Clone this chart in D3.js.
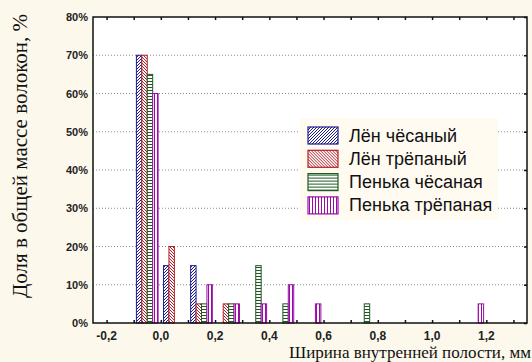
<!DOCTYPE html>
<html>
<head>
<meta charset="utf-8">
<script src="https://cdn.jsdelivr.net/npm/d3@7"></script>
<style>
  body { margin: 0; background: #fcf8ec; }
  svg { display: block; }
</style>
</head>
<body>
<div id="chart"></div>
<script>
// bin centres (mm), bins are 0.1 wide
var bins = [-0.05, 0.05, 0.15, 0.25, 0.35, 0.45, 0.55, 0.65, 0.75, 0.85, 0.95, 1.05, 1.15, 1.25];
var lenChes = [70, 15, 15, 0, 0, 0, 0, 0, 0, 0, 0, 0, 0, 0];
var lenTrep = [70, 20, 5, 5, 0, 0, 0, 0, 0, 0, 0, 0, 0, 0];
var penChes = [65, 0, 5, 5, 15, 5, 0, 0, 5, 0, 0, 0, 0, 0];
var penTrep = [60, 0, 10, 5, 5, 10, 5, 0, 0, 0, 0, 0, 5, 0];
var seriesNames = ["Лён чёсаный", "Лён трёпаный", "Пенька чёсаная", "Пенька трёпаная"];
var xTicks = [-0.2, -0.1, 0, 0.1, 0.2, 0.3, 0.4, 0.5, 0.6, 0.7, 0.8, 0.9, 1.0, 1.1, 1.2, 1.3];
var xLabels = [-0.2, 0, 0.2, 0.4, 0.6, 0.8, 1.0, 1.2];
var yTicks = [0, 10, 20, 30, 40, 50, 60, 70, 80];

var W = 532, H = 362;
var margin = {top: 17, right: 5, bottom: 39, left: 93};
var width = W - margin.left - margin.right,
    height = H - margin.top - margin.bottom;

var series = [
  {name: seriesNames[0], values: lenChes, color: "#1c1c8e", pat: "p0"},
  {name: seriesNames[1], values: lenTrep, color: "#b3202a", pat: "p1"},
  {name: seriesNames[2], values: penChes, color: "#1e5a22", pat: "p2"},
  {name: seriesNames[3], values: penTrep, color: "#9a0aa8", pat: "p3"}
];

var svg = d3.select("#chart").append("svg")
  .attr("width", W).attr("height", H);

// hatch patterns
var defs = svg.append("defs");
function hatch(id, color, path) {
  var p = defs.append("pattern")
    .attr("id", id).attr("patternUnits", "userSpaceOnUse")
    .attr("width", 3).attr("height", 3);
  p.append("rect").attr("width", 3).attr("height", 3).attr("fill", "#fff");
  p.append("path").attr("d", path).attr("stroke", color).attr("stroke-width", 1).attr("fill", "none");
}
hatch("p0", series[0].color, "M-1,1 l2,-2 M0,3 l3,-3 M2,4 l2,-2");
hatch("p1", series[1].color, "M-1,2 l2,2 M0,0 l3,3 M2,-1 l2,2");
hatch("p2", series[2].color, "M0,1.5 h3");
hatch("p3", series[3].color, "M1.5,0 v3");

var g = svg.append("g")
  .attr("transform", "translate(" + margin.left + "," + margin.top + ")");

var x = d3.scaleLinear().domain([-0.25, 1.35]).range([0, width]);
var y = d3.scaleLinear().domain([0, 80]).range([height, 0]);

g.append("rect").attr("width", width).attr("height", height).attr("fill", "#fff");

// grid
g.selectAll(".grid").data(yTicks.slice(1, -1)).enter().append("line")
  .attr("x1", 0).attr("x2", width)
  .attr("y1", function (d) { return y(d); })
  .attr("y2", function (d) { return y(d); })
  .attr("stroke", "#8a8a8a").attr("stroke-width", 1)
  .attr("stroke-dasharray", "1,2");

// bars
var binW = x(0.1) - x(0);
var barW = binW * 0.2;
series.forEach(function (s, si) {
  g.selectAll(".bar" + si)
    .data(bins.map(function (b, i) { return {b: b, v: s.values[i]}; })
      .filter(function (d) { return d.v > 0; }))
    .enter().append("rect")
    .attr("x", function (d) { return x(d.b) - 2 * barW + si * barW; })
    .attr("y", function (d) { return y(d.v); })
    .attr("width", barW)
    .attr("height", function (d) { return height - y(d.v); })
    .attr("fill", "url(#" + s.pat + ")")
    .attr("stroke", s.color)
    .attr("stroke-width", 1);
});

// axes
var fmt = function (d) { return d.toFixed(1).replace(".", ","); };

var xb = g.append("g").attr("transform", "translate(0," + height + ")")
  .call(d3.axisBottom(x).tickValues(xTicks).tickSize(-3).tickFormat(""));
var xt = g.append("g")
  .call(d3.axisTop(x).tickValues(xTicks).tickSize(-3).tickFormat(""));
var yl = g.append("g")
  .call(d3.axisLeft(y).tickValues(yTicks).tickSize(0).tickPadding(5)
    .tickFormat(function (d) { return d + "%"; }));
var yr = g.append("g").attr("transform", "translate(" + width + ",0)")
  .call(d3.axisRight(y).tickValues(yTicks).tickSize(-3).tickFormat(""));

[xb, xt, yl, yr].forEach(function (a) {
  a.select(".domain").remove();
  a.selectAll(".tick line").attr("stroke", "#111").attr("stroke-width", 1.5);
});
yl.selectAll("text")
  .style("font-family", "Liberation Sans, Arial, sans-serif")
  .style("font-size", "11px").style("font-weight", "bold").attr("fill", "#222");

g.selectAll(".xlab").data(xLabels).enter().append("text")
  .attr("x", function (d) { return x(d); })
  .attr("y", height + 17)
  .attr("text-anchor", "middle")
  .style("font-family", "Liberation Sans, Arial, sans-serif")
  .style("font-size", "12px").style("font-weight", "bold")
  .attr("fill", "#222")
  .text(fmt);

// frame
g.append("rect").attr("width", width).attr("height", height)
  .attr("fill", "none").attr("stroke", "#111").attr("stroke-width", 1.5);

// legend
var lg = g.append("g").attr("transform", "translate(" + (308 - margin.left) + "," + (118 - margin.top) + ")");
lg.append("rect").attr("x", -8).attr("y", 0).attr("width", 198).attr("height", 102)
  .attr("fill", "#fffbf1");
series.forEach(function (s, i) {
  var row = lg.append("g").attr("transform", "translate(0," + (9 + i * 23.3) + ")");
  row.append("rect").attr("width", 30).attr("height", 17)
    .attr("fill", "url(#" + s.pat + ")").attr("stroke", s.color).attr("stroke-width", 1.2);
  row.append("text").attr("x", 41).attr("y", 14.5)
    .style("font-family", "Liberation Sans, Arial, sans-serif")
    .style("font-size", "18px").attr("fill", "#111")
    .text(s.name);
});

// axis titles
svg.append("text")
  .attr("transform", "translate(27,156) rotate(-90)")
  .attr("text-anchor", "middle")
  .style("font-family", "Liberation Serif, Times New Roman, serif")
  .style("font-size", "21px").attr("fill", "#111")
  .text("Доля в общей массе волокон, %");

svg.append("text")
  .attr("x", 531).attr("y", 358)
  .attr("text-anchor", "end")
  .style("font-family", "Liberation Serif, Times New Roman, serif")
  .style("font-size", "17px").attr("fill", "#111")
  .text("Ширина внутренней полости, мм");
</script>
</body>
</html>
